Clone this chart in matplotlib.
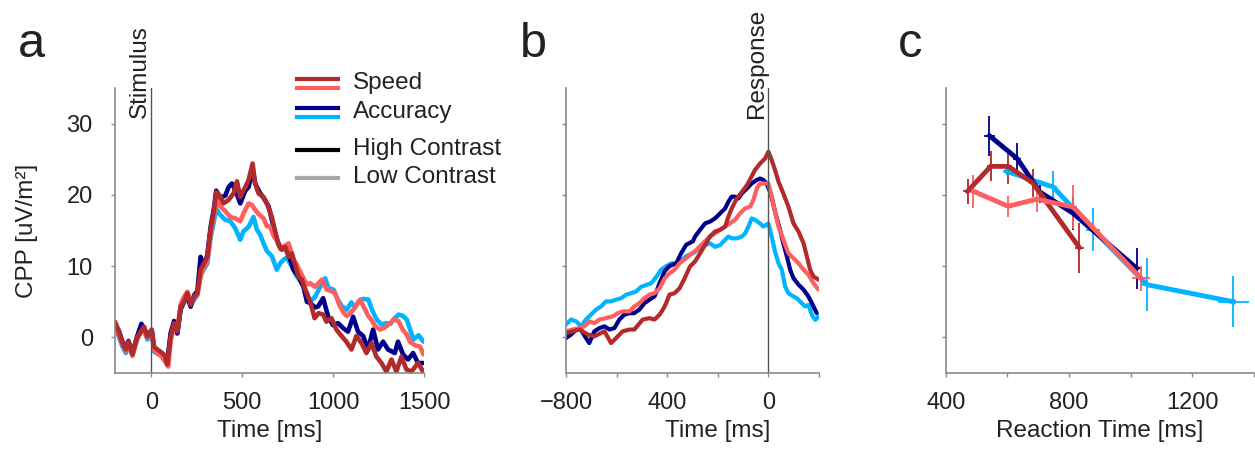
import matplotlib
matplotlib.use("Agg")
import matplotlib.pyplot as plt
from matplotlib.lines import Line2D

plt.rcParams['font.family'] = ['Liberation Sans', 'DejaVu Sans']

# colours
c_speed_hi = "#B22A2A"
c_speed_lo = "#FF5F5F"
c_acc_hi = "#00008B"
c_acc_lo = "#00B4FF"

# Panel a: stimulus-locked CPP, (time ms, uV/m2)
a_speed_hi = [(-200, 2.2), (-180, 0.9), (-159, -0.8), (-140, -1.7), (-126, -0.6), (-104, -2.4),
              (-80, -0.1), (-59, 0.8), (-40, 1.5), (-22, 0.1), (2, 1.1), (15, -1.3), (33, -1.7),
              (60, -2.2), (75, -2.6), (88, -3.8), (106, 0.1), (125, 2.0), (143, 0.8), (161, 4.3),
              (180, 5.0), (198, 6.2), (216, 4.6), (235, 5.7), (253, 6.2), (271, 9.5), (290, 10.4),
              (308, 11.3), (326, 15.1), (345, 17.9), (357, 20.4), (379, 19.8), (397, 18.8),
              (425, 19.3), (452, 20.2), (471, 21.9), (489, 19.7), (517, 21.1), (535, 22.1),
              (557, 24.4), (571, 21.6), (590, 20.2), (617, 19.7), (636, 18.8), (663, 16.9),
              (681, 14.9), (700, 13.0), (718, 12.3), (737, 12.7), (755, 11.3), (773, 11.8),
              (791, 10.2), (810, 8.5), (828, 8.1), (846, 6.7), (874, 5.0), (898, 2.7), (920, 3.4),
              (945, 3.2), (963, 2.2), (991, 2.7), (1018, 1.1), (1046, 0.2), (1073, -0.6),
              (1101, -1.7), (1128, 0.2), (1156, -0.8), (1183, -2.2), (1211, -0.8), (1238, -2.7),
              (1266, -3.6), (1293, -4.8), (1321, -3.1), (1348, -4.8), (1376, -2.7), (1403, -4.5),
              (1431, -4.8), (1467, -3.6), (1495, -4.8)]

a_speed_lo = [(-200, 1.5), (-180, 0.5), (-159, -1.0), (-140, -1.9), (-126, -0.8), (-104, -2.6),
              (-80, -0.3), (-59, 0.6), (-40, 1.2), (-22, -0.1), (2, 0.8), (15, -1.7), (33, -2.2),
              (60, -2.8), (93, -4.1), (106, -0.5), (125, 1.6), (143, 0.9), (161, 4.6), (175, 5.5),
              (198, 6.4), (216, 5.0), (235, 5.6), (253, 6.0), (271, 8.5), (290, 10.0), (308, 10.6),
              (326, 14.6), (345, 17.2), (360, 19.3), (379, 18.4), (407, 17.7), (434, 16.9),
              (462, 16.7), (489, 16.3), (507, 17.4), (535, 18.8), (553, 18.6), (571, 17.9),
              (590, 17.3), (617, 16.7), (636, 15.6), (654, 15.5), (672, 14.3), (690, 13.6),
              (709, 12.4), (727, 12.75), (755, 13.2), (782, 10.9), (800, 10.2), (819, 9.2),
              (837, 8.3), (855, 7.4), (874, 7.6), (901, 7.1), (920, 7.6), (938, 8.1), (965, 6.7),
              (990, 6.5), (1011, 6.2), (1038, 4.35), (1060, 3.4), (1075, 3.0), (1095, 3.4),
              (1112, 3.9), (1130, 4.6), (1148, 5.3), (1167, 4.35), (1194, 3.0), (1212, 2.4),
              (1231, 1.6), (1258, 1.1), (1277, 1.3), (1295, 1.6), (1315, 2.0), (1332, 2.5),
              (1359, 2.3), (1385, 1.0), (1405, 0.4), (1422, -0.6), (1450, -1.1), (1478, -1.3),
              (1497, -2.4)]

a_acc_hi = [(-200, 1.8), (-180, 1.0), (-159, -0.6), (-140, -1.5), (-126, -0.5), (-104, -2.2),
            (-80, 0.0), (-55, 1.9), (-40, 1.2), (-22, 0.3), (2, 1.0), (15, -1.6), (33, -2.0),
            (60, -2.6), (88, -3.4), (106, 0.6), (125, 2.3), (143, 0.6), (161, 4.0), (180, 5.2),
            (198, 5.8), (216, 4.3), (235, 5.9), (253, 6.5), (271, 11.3), (290, 10.0), (308, 11.6),
            (326, 15.5), (345, 18.2), (357, 20.6), (379, 19.6), (407, 19.9), (425, 21.1),
            (443, 21.6), (465, 20.5), (489, 18.8), (517, 20.6), (535, 21.1), (557, 23.7),
            (571, 21.6), (599, 20.2), (617, 19.6), (645, 18.4), (672, 15.5), (690, 13.7),
            (709, 12.7), (737, 12.5), (755, 11.6), (782, 9.5), (810, 8.5), (837, 7.1), (856, 5.0),
            (874, 4.8), (901, 4.2), (918, 4.35), (945, 5.5), (973, 2.9), (1000, 1.7), (1027, 2.0),
            (1055, 1.3), (1082, 0.8), (1110, 2.9), (1137, 0.8), (1165, 0.2), (1192, -1.7),
            (1220, 1.1), (1247, -1.7), (1275, -0.6), (1302, -1.7), (1339, -2.2), (1357, -0.6),
            (1385, -2.4), (1412, -3.1), (1440, -2.2), (1467, -3.6), (1495, -3.6)]

a_acc_lo = [(-200, 1.2), (-180, 0.2), (-159, -1.3), (-140, -2.2), (-126, -1.0), (-104, -2.4),
            (-80, -0.5), (-55, 1.7), (-40, 1.0), (-22, -0.3), (2, 0.7), (15, -2.0), (33, -2.3),
            (60, -2.5), (88, -3.2), (106, 0.2), (125, 1.8), (143, 0.5), (161, 3.9), (180, 4.8),
            (198, 5.9), (216, 4.5), (235, 5.3), (253, 5.9), (271, 8.8), (290, 9.6), (308, 10.4),
            (326, 14.0), (345, 16.4), (357, 18.0), (379, 17.2), (407, 16.5), (434, 16.3),
            (462, 15.3), (489, 13.7), (507, 14.9), (535, 15.5), (562, 16.9), (581, 15.1),
            (599, 14.4), (617, 13.2), (636, 12.1), (663, 11.4), (690, 9.5), (709, 10.4),
            (727, 10.9), (746, 11.2), (773, 9.9), (800, 8.6), (828, 7.6), (856, 6.3), (874, 5.0),
            (901, 5.7), (929, 7.1), (956, 8.3), (975, 6.9), (1002, 6.7), (1020, 5.6), (1046, 4.4),
            (1075, 3.9), (1100, 4.9), (1120, 4.2), (1139, 5.0), (1165, 5.4), (1194, 5.3),
            (1215, 3.8), (1240, 2.5), (1266, 1.8), (1290, 2.0), (1315, 1.9), (1340, 2.7),
            (1360, 3.2), (1385, 3.0), (1405, 2.5), (1425, 1.0), (1442, -0.3), (1470, 0.3),
            (1497, -0.6)]

# Panel b: response-locked CPP
b_speed_hi = [(-800, 0.6), (-774, 0.85), (-747, 1.1), (-714, 0.4), (-688, 0.14), (-648, 0.85),
              (-622, -0.8), (-602, -0.1), (-576, 0.85), (-549, 1.1), (-530, 1.1), (-497, 2.5),
              (-470, 2.7), (-450, 2.5), (-430, 3.2), (-417, 3.9), (-404, 4.8), (-391, 6.0),
              (-371, 6.2), (-351, 6.9), (-331, 8.3), (-310, 9.95), (-290, 10.65), (-270, 11.8),
              (-250, 13.0), (-231, 14.15), (-211, 14.85), (-191, 15.1), (-171, 15.55),
              (-158, 16.95), (-145, 18.1), (-125, 19.5), (-105, 20.4), (-85, 21.35), (-66, 22.6),
              (-53, 23.5), (-33, 24.4), (-13, 25.1), (0, 26.05), (13, 24.9), (26, 23.5),
              (40, 21.85), (59, 20.2), (79, 18.35), (99, 16.0), (119, 14.85), (139, 13.2),
              (152, 11.35), (165, 9.5), (178, 8.55), (198, 8.1)]

b_speed_lo = [(-800, 0.85), (-774, 1.1), (-747, 1.3), (-727, 1.55), (-708, 2.25), (-688, 2.0),
              (-668, 2.5), (-642, 2.7), (-615, 2.96), (-595, 3.4), (-576, 3.65), (-549, 3.65),
              (-530, 4.35), (-510, 4.8), (-490, 5.5), (-470, 6.0), (-450, 6.2), (-430, 6.9),
              (-410, 8.3), (-391, 9.0), (-371, 9.5), (-351, 10.4), (-325, 11.1), (-310, 11.6),
              (-290, 12.1), (-270, 12.8), (-250, 13.5), (-231, 14.15), (-211, 14.6), (-191, 15.1),
              (-171, 15.55), (-152, 16.0), (-132, 16.5), (-112, 17.4), (-92, 18.1), (-72, 18.35),
              (-59, 19.3), (-46, 20.9), (-33, 21.6), (-13, 21.6), (0, 21.6), (13, 19.75),
              (26, 17.65), (40, 15.55), (59, 13.7), (79, 11.8), (99, 11.1), (119, 10.4),
              (139, 9.5), (158, 8.8), (178, 7.6), (198, 6.7)]

b_acc_hi = [(-800, -0.1), (-780, 0.4), (-760, 1.1), (-741, 1.1), (-721, -0.1), (-708, -0.8),
            (-688, 0.85), (-668, 1.3), (-648, 1.55), (-628, 1.1), (-609, 1.3), (-589, 2.5),
            (-569, 3.2), (-549, 3.4), (-530, 3.4), (-510, 3.9), (-490, 4.8), (-470, 5.3),
            (-450, 5.75), (-430, 7.6), (-410, 9.3), (-391, 10.0), (-364, 10.4), (-345, 11.8),
            (-325, 13.0), (-298, 13.5), (-290, 14.15), (-270, 15.1), (-250, 16.0), (-231, 16.25),
            (-211, 16.7), (-191, 17.4), (-171, 18.1), (-158, 19.05), (-145, 19.75), (-132, 19.75),
            (-119, 19.5), (-105, 20.2), (-85, 20.9), (-66, 21.6), (-46, 22.1), (-33, 22.3),
            (-20, 22.1), (-7, 21.6), (7, 20.4), (20, 18.6), (33, 16.7), (46, 15.1), (59, 13.2),
            (73, 11.35), (86, 9.5), (99, 8.3), (119, 7.4), (139, 6.7), (158, 5.75), (172, 4.8),
            (191, 3.4)]

b_acc_lo = [(-800, 1.8), (-780, 2.5), (-760, 2.25), (-741, 1.55), (-721, 2.5), (-701, 3.2),
            (-681, 3.9), (-661, 4.35), (-642, 5.05), (-622, 5.05), (-602, 5.3), (-582, 5.5),
            (-562, 6.0), (-543, 6.2), (-523, 6.45), (-503, 7.1), (-483, 7.35), (-463, 7.6),
            (-443, 8.5), (-424, 9.5), (-404, 10.0), (-384, 10.4), (-364, 10.4), (-345, 10.7),
            (-325, 11.4), (-298, 11.8), (-257, 12.9), (-231, 13.2), (-211, 12.7), (-191, 12.95),
            (-171, 13.7), (-158, 14.15), (-145, 13.9), (-125, 13.9), (-105, 14.15), (-92, 14.6),
            (-79, 15.55), (-66, 16.7), (-53, 16.5), (-33, 16.0), (-20, 15.55), (0, 16.0),
            (13, 14.15), (26, 12.05), (40, 10.4), (53, 9.5), (66, 7.15), (79, 6.2), (99, 5.75),
            (112, 5.5), (132, 4.8), (145, 4.35), (158, 4.55), (172, 3.15), (185, 2.45),
            (198, 2.9)]

# Panel c: CPP vs reaction time bins (RT ms, CPP, RT err, CPP err)
c_speed_hi_rt = [471, 546, 603, 682, 834]
c_speed_hi_cpp = [20.5, 24.0, 24.0, 21.7, 12.6]
c_speed_hi_xerr = [15, 12, 12, 12, 15]
c_speed_hi_yerr = [1.75, 2.1, 2.45, 2.0, 3.5]

c_speed_lo_rt = [490, 603, 695, 814, 1034]
c_speed_lo_cpp = [20.5, 18.4, 19.4, 18.3, 8.3]
c_speed_lo_xerr = [15, 12, 12, 12, 28]
c_speed_lo_yerr = [2.3, 1.45, 1.75, 3.1, 1.75]

c_acc_hi_rt = [542, 632, 706, 814, 1020]
c_acc_hi_cpp = [28.3, 25.1, 20.4, 17.4, 9.7]
c_acc_hi_xerr = [18, 12, 10, 12, 18]
c_acc_hi_yerr = [2.8, 2.2, 1.5, 2.3, 2.9]

c_acc_lo_rt = [598, 749, 879, 1053, 1334]
c_acc_lo_cpp = [23.3, 21.1, 15.1, 7.4, 5.0]
c_acc_lo_xerr = [12, 12, 22, 15, 51]
c_acc_lo_yerr = [0.5, 2.3, 3.0, 3.7, 3.6]

W, H = 1255, 449
fig = plt.figure(figsize=(W / 100, H / 100), dpi=100)

txt = "#222222"
spine_c = "#8a8a8a"
fs = 17.5


def style(ax):
    for s in ["top", "right"]:
        ax.spines[s].set_visible(False)
    for s in ["left", "bottom"]:
        ax.spines[s].set_color(spine_c)
        ax.spines[s].set_linewidth(1.2)
    ax.tick_params(axis="both", direction="out", length=3, width=1, colors=spine_c,
                   labelcolor=txt, labelsize=17)
    ax.tick_params(axis="x", pad=11)
    ax.tick_params(axis="y", pad=13)
    ax.set_ylim(-5, 35)
    ax.set_yticks([0, 10, 20, 30])


def draw(ax, series, lw):
    for pts, col in series:
        t = [p[0] for p in pts]
        v = [p[1] for p in pts]
        ax.plot(t, v, color=col, lw=lw, solid_joinstyle="round", solid_capstyle="round")


# ---- panel a
ax_a = fig.add_axes([115 / W, 76 / H, 309 / W, 285 / H])
style(ax_a)
draw(ax_a, [(a_acc_lo, c_acc_lo), (a_acc_hi, c_acc_hi), (a_speed_lo, c_speed_lo),
            (a_speed_hi, c_speed_hi)], 3.3)
ax_a.set_xlim(-200, 1500)
ax_a.set_xticks([0, 500, 1000, 1500])
ax_a.axvline(0, color="#555555", lw=1)
ax_a.text(0, 30.8, "Stimulus", rotation=90, ha="right", va="bottom", fontsize=fs, color=txt)
ax_a.set_xlabel("Time [ms]", fontsize=fs, color=txt)
ax_a.xaxis.set_label_coords(0.5, -0.165)
ax_a.set_ylabel("CPP [uV/m²]", fontsize=fs, color=txt)
ax_a.yaxis.set_label_coords(-0.25, 0.5)

# ---- panel b
ax_b = fig.add_axes([566 / W, 76 / H, 253 / W, 285 / H])
style(ax_b)
draw(ax_b, [(b_acc_lo, c_acc_lo), (b_acc_hi, c_acc_hi), (b_speed_lo, c_speed_lo),
            (b_speed_hi, c_speed_hi)], 3.0)
ax_b.set_xlim(-800, 200)
ax_b.set_xticks([-800, -600, -400, -200, 0, 200])
ax_b.set_xticklabels(["\u2212800", "", "400", "", "0", ""])
ax_b.set_yticklabels([])
ax_b.axvline(0, color="#555555", lw=1)
ax_b.text(0, 30.8, "Response", rotation=90, ha="right", va="bottom", fontsize=fs, color=txt)
ax_b.set_xlabel("Time [ms]", fontsize=fs, color=txt)
ax_b.xaxis.set_label_coords(0.6, -0.165)

# ---- panel c
ax_c = fig.add_axes([945.7 / W, 76 / H, 308 / W, 285 / H])
style(ax_c)
for rt, cpp, xe, ye, col in [
        (c_acc_lo_rt, c_acc_lo_cpp, c_acc_lo_xerr, c_acc_lo_yerr, c_acc_lo),
        (c_acc_hi_rt, c_acc_hi_cpp, c_acc_hi_xerr, c_acc_hi_yerr, c_acc_hi),
        (c_speed_hi_rt, c_speed_hi_cpp, c_speed_hi_xerr, c_speed_hi_yerr, c_speed_hi),
        (c_speed_lo_rt, c_speed_lo_cpp, c_speed_lo_xerr, c_speed_lo_yerr, c_speed_lo)]:
    ax_c.errorbar(rt, cpp, xerr=xe, yerr=ye, color=col, lw=3.5, elinewidth=1.3, capsize=0)
ax_c.set_xlim(400, 1400)
ax_c.set_xticks([400, 600, 800, 1000, 1200, 1400])
ax_c.set_xticklabels(["400", "", "800", "", "1200", ""])
ax_c.set_yticklabels([])
ax_c.set_xlabel("Reaction Time [ms]", fontsize=fs, color=txt)
ax_c.xaxis.set_label_coords(0.5, -0.165)


# ---- legend drawn by hand (two colour swatches per instruction)
def fx(px):
    return px / W


def fy(py):
    return 1 - py / H


legend_rows = [
    ([(79, c_speed_hi), (88, c_speed_lo)], 83, "Speed"),
    ([(108, c_acc_hi), (117, c_acc_lo)], 112, "Accuracy"),
    ([(150, "#000000")], 149, "High Contrast"),
    ([(178, "#a6a6a6")], 177, "Low Contrast"),
]
for swatches, ty, label in legend_rows:
    for py, col in swatches:
        fig.add_artist(Line2D([fx(297), fx(338)], [fy(py), fy(py)], color=col, lw=3.0,
                              transform=fig.transFigure))
    fig.text(fx(353), fy(ty), label, fontsize=fs, color=txt, va="center", ha="left")

# panel letters
for px, letter in [(18, "a"), (520, "b"), (898, "c")]:
    fig.text(fx(px), fy(57), letter, fontsize=35, color=txt, va="baseline", ha="left")

fig.savefig("out.png", dpi=100)
